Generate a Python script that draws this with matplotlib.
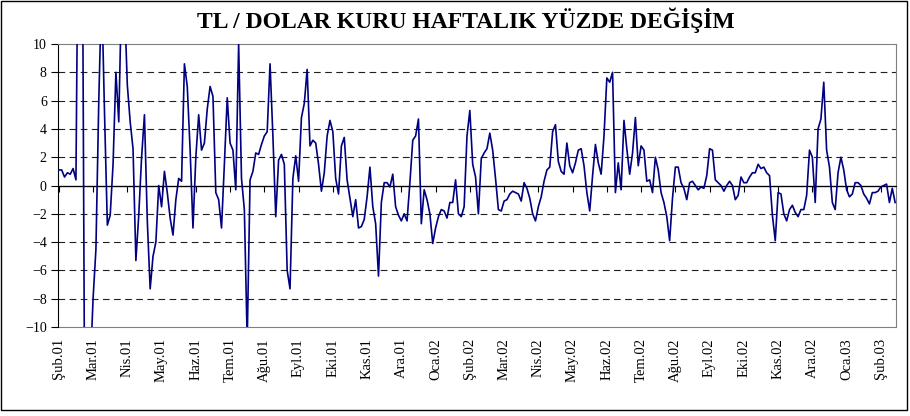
import numpy as np
import matplotlib
matplotlib.use("Agg")
import matplotlib.pyplot as plt
from matplotlib.patches import Rectangle

plt.rcParams['font.family'] = ['Liberation Serif', 'DejaVu Serif']

# haftalik yuzde degisim, her ay icin 12 okuma (Sub.01 - Oca.02 oncesi)
degisim_2001 = [
    1.1, 1.1, 0.6, 0.9, 0.8, 1.2, 0.4, 25, 30, -14, -16, -13,
    -8, -4.5, 6, 14, 5.2, -2.8, -2.1, 1.5, 8, 4.5, 14, 13,
    7.1, 4.5, 2.6, -5.3, -2.1, 2.0, 5.0, -2.5, -7.3, -5.0, -4.0, 0.0,
    -1.5, 1.0, -0.5, -2.3, -3.5, -1.0, 0.5, 0.3, 8.6, 7.0, 2.5, -3.0,
    2.0, 5.0, 2.5, 3.0, 5.4, 7.0, 6.3, -0.5, -1.0, -3.0, 1.5, 6.2,
    3.0, 2.5, -0.3, 10.0, 0.5, -1.7, -11, 0.4, 1.0, 2.3, 2.2, 2.9,
    3.5, 3.8, 8.6, 3.5, -2.2, 1.8, 2.2, 1.5, -6.0, -7.3, 0.5, 2.1,
    0.3, 4.8, 5.8, 8.2, 2.8, 3.2, 3.0, 1.5, -0.4, 0.9, 3.5, 4.6,
    3.8, 0.5, -0.6, 2.8, 3.4, 0.4, -0.9, -2.2, -1.0, -3.0, -2.9, -2.4,
    -0.8, 1.3, -1.5, -2.7, -6.4, -1.2, 0.2, 0.2, -0.1, 0.8, -1.5, -2.1,
    -2.5, -2.0, -2.5, 0.2, 3.2, 3.5, 4.7, -2.7, -0.3, -1.0, -2.0, -4.1,
]
degisim_2002 = [
    -3.0, -2.2, -1.7, -1.8, -2.3, -1.2, -1.2, 0.4, -2.0, -2.2, -1.5, 3.5,
    5.3, 1.5, 0.6, -2.0, 1.9, 2.3, 2.6, 3.7, 2.5, 0.5, -1.7, -1.8,
    -1.1, -1.0, -0.6, -0.4, -0.5, -0.6, -1.1, 0.2, -0.2, -0.9, -2.0, -2.5,
    -1.5, -0.8, 0.3, 1.1, 1.3, 3.8, 4.3, 1.7, 1.0, 0.8, 3.0, 1.4,
    0.9, 1.6, 2.5, 2.6, 1.4, -0.5, -1.8, 0.7, 2.9, 1.6, 0.8, 3.5,
    7.6, 7.3, 8.0, -0.5, 1.6, -0.3, 4.6, 2.6, 0.8, 2.3, 4.8, 1.4,
    2.8, 2.5, 0.3, 0.4, -0.5, 2.0, 1.1, -0.5, -1.2, -2.2, -3.9, -0.9,
    1.3, 1.3, 0.2, -0.2, -1.0, 0.2, 0.3, 0.0, -0.3, -0.1, -0.2, 0.7,
    2.6, 2.5, 0.4, 0.2, 0.0, -0.4, 0.0, 0.3, 0.0, -1.0, -0.7, 0.6,
    0.2, 0.2, 0.6, 0.9, 0.9, 1.5, 1.2, 1.3, 0.9, 0.7, -2.1, -3.9,
    -0.5, -0.6, -2.0, -2.5, -1.7, -1.4, -1.9, -2.2, -1.7, -1.7, -0.7, 2.5,
    2.0, -1.2, 4.0, 4.7, 7.3, 2.5, 1.3, -1.2, -1.7, 0.9, 2.0, 1.1,
]
degisim_2003 = [
    -0.3, -0.8, -0.6, 0.2, 0.2, 0.0, -0.6, -0.9, -1.3, -0.5, -0.5, -0.4,
    -0.1, 0.0, 0.1, -1.2, -0.2, -1.2,
]

aylar = ['Şub.01', 'Mar.01', 'Nis.01', 'May.01', 'Haz.01', 'Tem.01', 'Ağu.01',
         'Eyl.01', 'Eki.01', 'Kas.01', 'Ara.01', 'Oca.02', 'Şub.02', 'Mar.02',
         'Nis.02', 'May.02', 'Haz.02', 'Tem.02', 'Ağu.02', 'Eyl.02', 'Eki.02',
         'Kas.02', 'Ara.02', 'Oca.03', 'Şub.03']

degisim = np.array(degisim_2001 + degisim_2002 + degisim_2003)
x = np.arange(len(degisim))
ay_pos = np.arange(len(aylar)) * 12

fig = plt.figure(figsize=(9.1, 4.16), dpi=100)
ax = fig.add_axes([0.0637, 0.2139, 0.9209, 0.6803])

yt = np.arange(-10, 11, 2)
for y in yt[1:-1]:
    if y != 0:
        ax.axhline(y, color='#202020', lw=0.8, ls=(0, (6, 4)), zorder=1)
ax.axhline(0, color='black', lw=0.9, zorder=2)

ax.plot(x, degisim, color='#000080', lw=1.2, zorder=3)

ax.set_ylim(-10, 10)
ax.set_xlim(-0.3, len(degisim) - 0.7)
ax.set_yticks(yt)
ax.tick_params(axis='y', direction='out', length=5, labelsize=10, pad=3)

ax.spines['bottom'].set_position(('data', 0))
ax.spines['bottom'].set_color('black')
ax.spines['left'].set_color('black')
ax.spines['top'].set_color('#808080')
ax.spines['right'].set_color('#808080')
ax.set_xticks(ay_pos)
ax.tick_params(axis='x', direction='out', length=4, labelbottom=False)

sec = ax.secondary_xaxis('bottom')
sec.set_xticks(ay_pos, labels=aylar, rotation=90)
sec.tick_params(length=0, pad=8, labelsize=10.5)
sec.spines['bottom'].set_color('#808080')

fig.text(0.512, 0.952, 'TL / DOLAR KURU HAFTALIK YÜZDE DEĞİŞİM',
         ha='center', va='center', fontsize=17, fontweight='bold')

fig.add_artist(Rectangle((0.001, 0.0144), 0.996, 0.984, transform=fig.transFigure,
                         fill=False, ec='black', lw=1))

fig.savefig('out.png', dpi=100)
